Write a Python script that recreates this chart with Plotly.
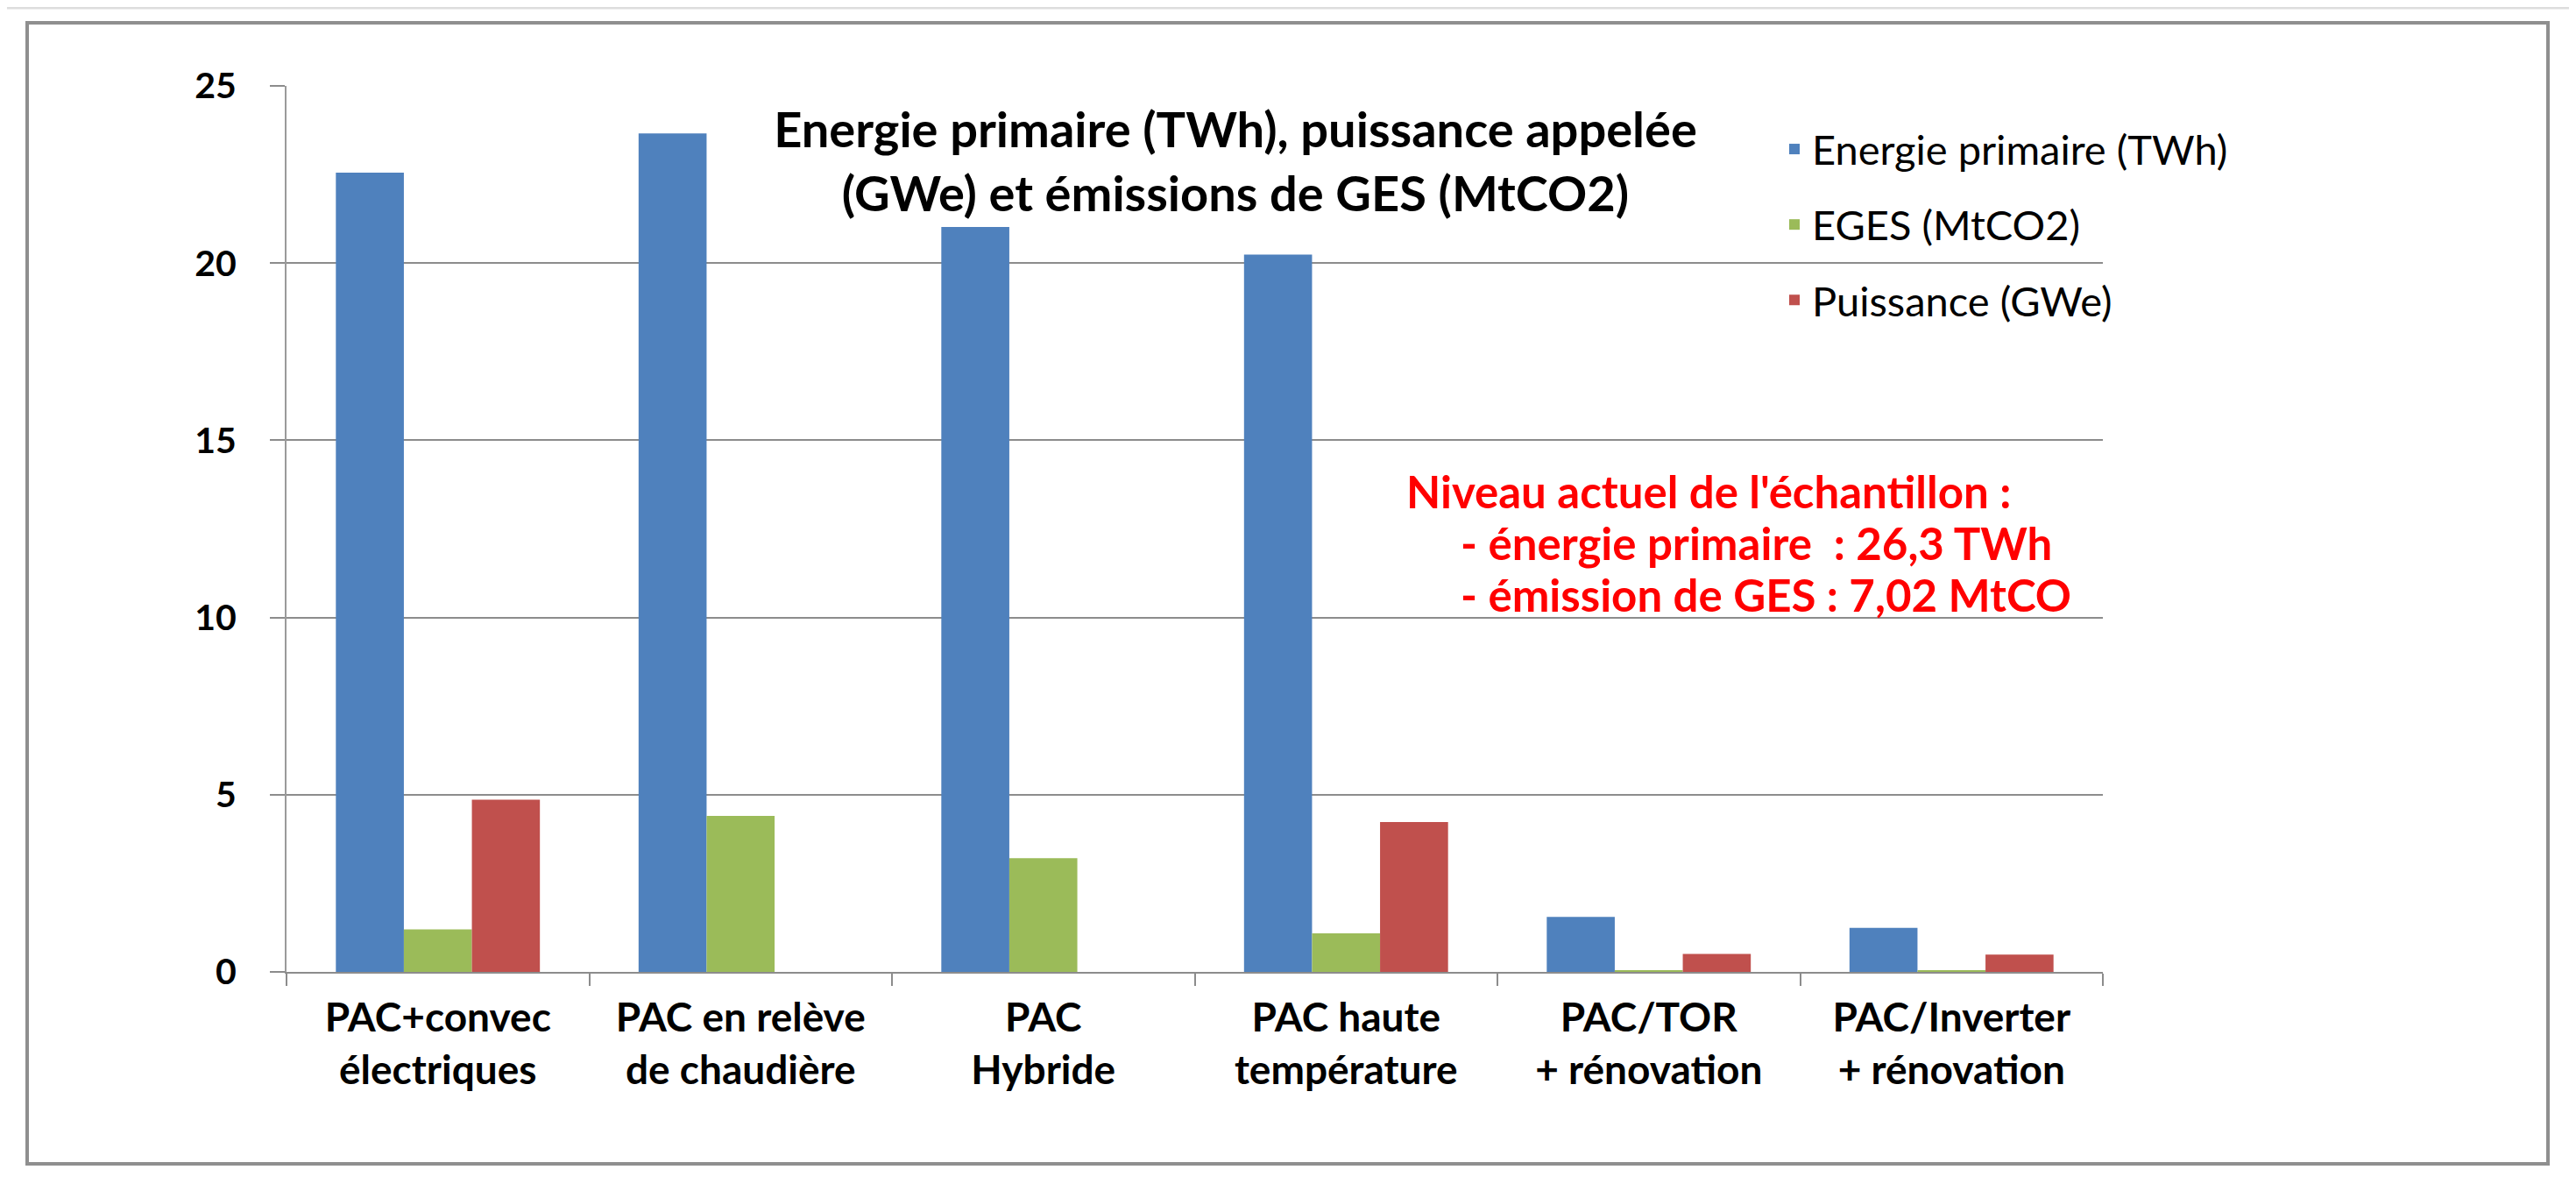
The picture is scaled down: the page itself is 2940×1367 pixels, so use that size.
import plotly.graph_objects as go

categories = [
    "PAC+convec<br>électriques",
    "PAC en relève<br>de chaudière",
    "PAC<br>Hybride",
    "PAC haute<br>température",
    "PAC/TOR<br>+ rénovation",
    "PAC/Inverter<br>+ rénovation",
]
energie_primaire = [22.55, 23.66, 21.02, 20.24, 1.55, 1.24]
eges = [1.20, 4.40, 3.21, 1.09, 0.05, 0.05]
puissance = [4.86, 0, 0, 4.23, 0.51, 0.49]
series_names = ["Energie primaire (TWh)", "EGES (MtCO2)", "Puissance (GWe)"]
y_ticks = [0, 5, 10, 15, 20, 25]

OFF = 8  # page body margin
W, H = 2940 - 2 * OFF, 1367 - 2 * OFF
# plot area in page pixels
PX0, PX1, PY0, PY1 = 327, 2400, 98, 1109
L, R, T, B = PX0 - OFF, PX1 - OFF, PY0 - OFF, PY1 - OFF


def fx(px):
    return (px - OFF - L) / (R - L)


def fy(py):
    return (B - (py - OFF)) / (B - T)


FONT = "Lato"
colors = ["#4F81BD", "#9BBB59", "#C0504D"]

fig = go.Figure()
for i, (name, vals) in enumerate(zip(series_names, [energie_primaire, eges, puissance])):
    fig.add_trace(go.Bar(
        x=categories, y=vals, name=name,
        marker=dict(color=colors[i], line=dict(width=0)),
        legendgroup=f"g{i}",
    ))

fig.update_layout(
    width=W, height=H, autosize=False,
    margin=dict(l=L, r=W - R, t=T, b=H - B, pad=0),
    paper_bgcolor="white", plot_bgcolor="white",
    barmode="group", bargap=0.326, bargroupgap=0,
    font=dict(family=FONT, color="black"),
    title=dict(
        text="Energie primaire (TWh), puissance appelée<br>(GWe) et émissions de GES (MtCO2)",
        font=dict(family=FONT, size=56, color="black", weight="bold"),
        x=(1410 - OFF) / W, xanchor="center", xref="container",
        y=1 - 160 / H, yanchor="top", yref="container",
    ),
    legend=dict(
        x=fx(2028), xanchor="left", y=fy(133), yanchor="top",
        bgcolor="rgba(0,0,0,0)", borderwidth=0,
        font=dict(family=FONT, size=47, color="black"),
        tracegroupgap=22, traceorder="grouped",
    ),
    showlegend=True,
)

fig.update_yaxes(
    range=[0, 25], tickvals=y_ticks, ticktext=[str(v) for v in y_ticks],
    showgrid=True, gridcolor="#8c8c8c", gridwidth=2,
    showline=True, linecolor="#9a9a9a", linewidth=2,
    ticks="outside", ticklen=17, tickwidth=2, tickcolor="#8c8c8c",
    tickfont=dict(family=FONT, size=41, color="black", weight="bold"),
    ticklabelstandoff=30, zeroline=False, automargin=False, fixedrange=True,
)
fig.update_xaxes(
    type="category", showline=True, linecolor="#8c8c8c", linewidth=2,
    ticks="outside", tickson="boundaries", ticklen=14, tickwidth=2, tickcolor="#8c8c8c",
    tickfont=dict(family=FONT, size=46, color="black", weight="bold"),
    ticklabelstandoff=11,
    showgrid=False, automargin=False, fixedrange=True, tickangle=0,
)

# outer chart frame and top border line
fig.add_shape(type="rect", xref="paper", yref="paper",
              x0=fx(31), x1=fx(2908), y0=fy(1328), y1=fy(26),
              line=dict(color="#8f8f8f", width=4), fillcolor="rgba(0,0,0,0)", layer="below")
fig.add_shape(type="line", xref="paper", yref="paper",
              x0=fx(0), x1=fx(2940), y0=fy(OFF + 1), y1=fy(OFF + 1),
              line=dict(color="#dddddd", width=3))

red_lines = [
    ("Niveau actuel de l'échantillon :", 1603, 560),
    ("- énergie primaire  : 26,3 TWh", 1665, 619),
    ("- émission de GES : 7,02 MtCO", 1665, 678),
]
for txt, px, py in red_lines:
    fig.add_annotation(
        text=txt.replace("  ", "&nbsp; "), xref="paper", yref="paper",
        x=fx(px), y=fy(py), xanchor="left", yanchor="middle", showarrow=False,
        font=dict(family=FONT, size=51, color="#FF0000", weight="bold"),
    )

fig.write_html("out.html")
